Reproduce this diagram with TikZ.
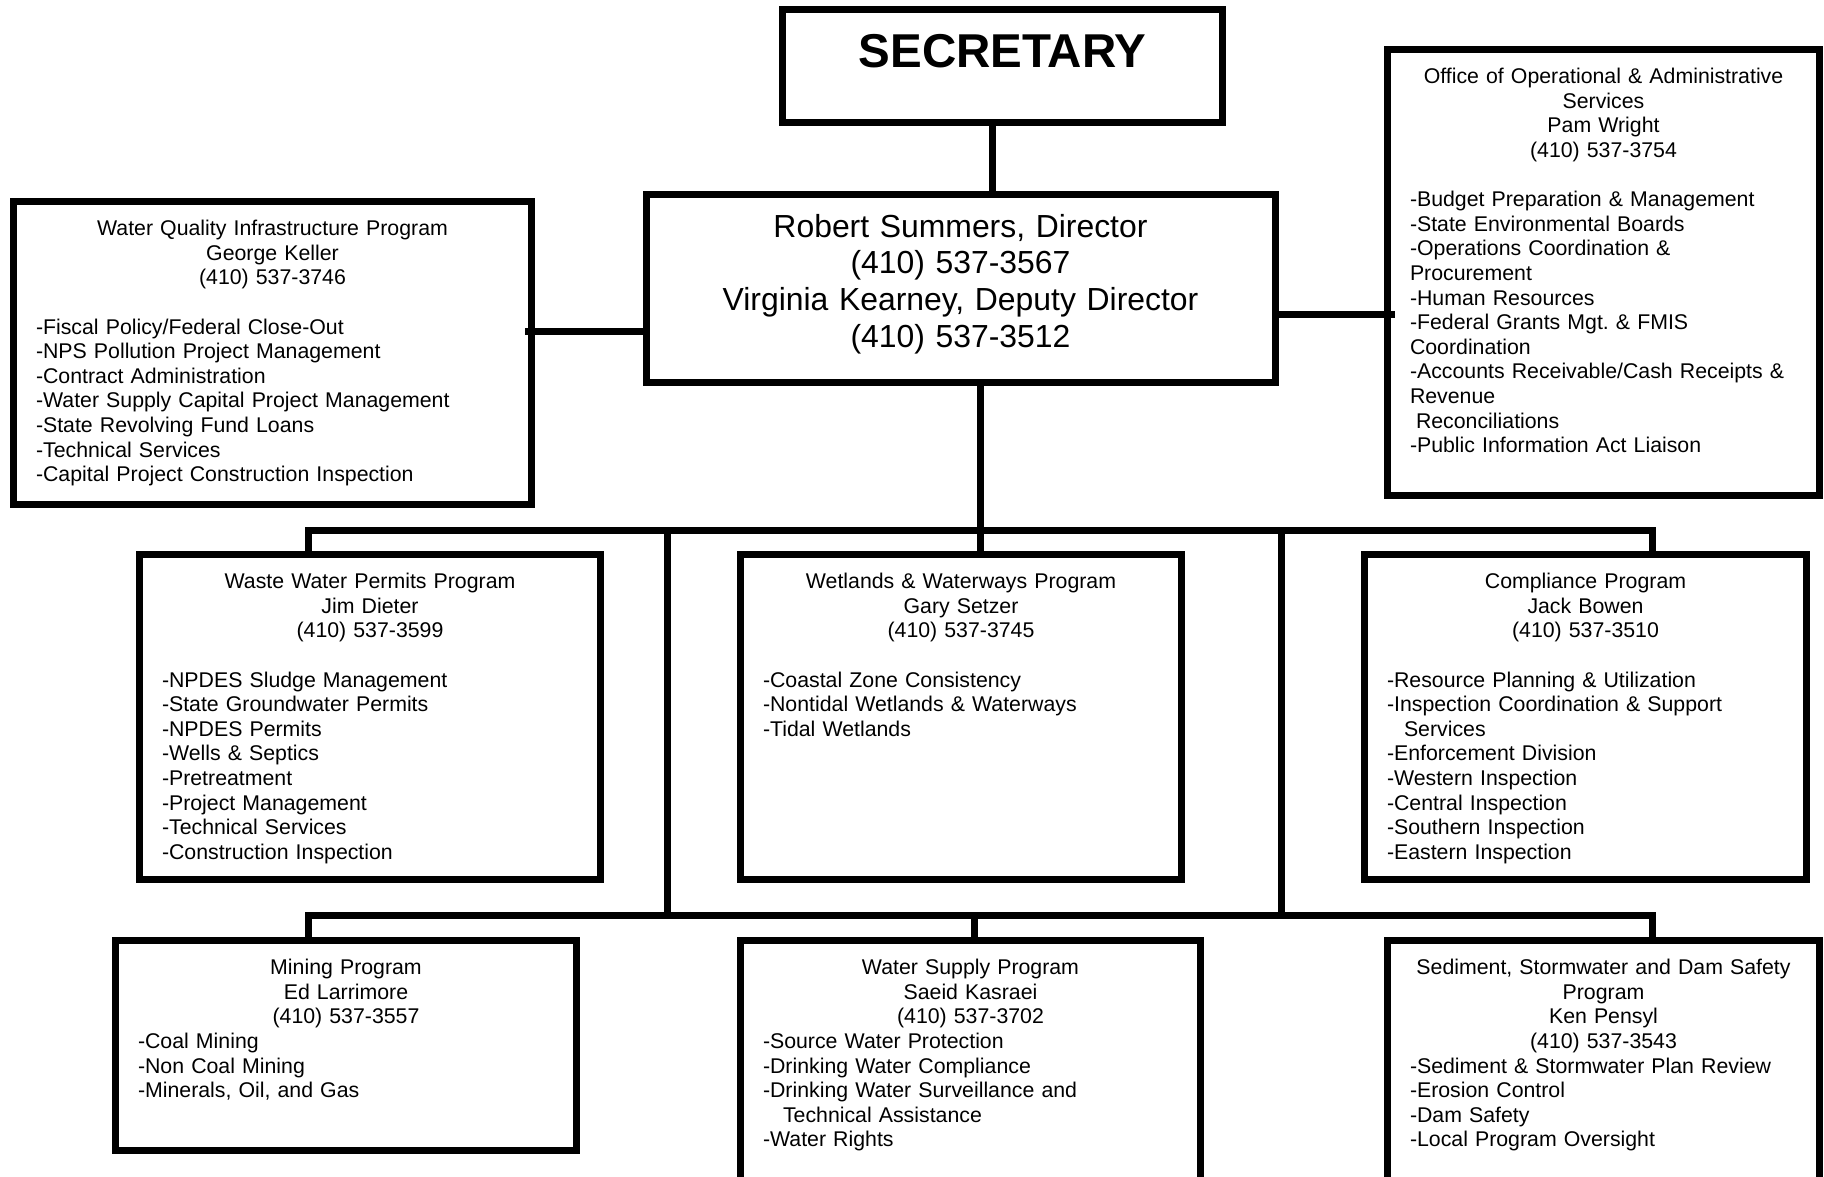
\documentclass[tikz,border=0pt]{standalone}
\usepackage{fontspec}
\setmainfont{Liberation Sans}
\tikzstyle{unit} = [rectangle, draw=black, line width=7pt, inner sep=0pt]
\tikzstyle{info} = [inner sep=0pt, anchor=north, align=left,
                    font=\fontsize{21.3}{24.6}\selectfont]
\tikzstyle{link} = [line width=7pt]

\begin{document}
\begin{tikzpicture}[x=1pt, y=-1pt]
  \path[use as bounding box, fill=white] (0,0) rectangle (1824,1176);

  % --- Top ---
  \node (sec) [unit, minimum width=440pt, minimum height=113pt] at (1002.5,66) {};
  \node (sec-txt) [inner sep=0pt, anchor=base, font=\fontsize{47.5}{55}\bfseries]
                  at (1002.5,67.5) {SECRETARY};

  \node (dir) [unit, minimum width=629pt, minimum height=188pt] at (960.5,288.5) {};
  \node (dir-txt) [info, align=center, text width=600pt, font=\fontsize{31.9}{36.6}\selectfont]
                  at (960.5,211.4)
                  {\strut Robert Summers, Director\\(410) 537-3567\\
                   Virginia Kearney, Deputy Director\\(410) 537-3512};

  % --- Side offices ---
  \node (wqi) [unit, minimum width=518pt, minimum height=303pt] at (272.5,353) {};
  \node (wqi-txt) [info, text width=473pt] at (272.5,218.3)
    {{\centering\strut Water Quality Infrastructure Program\\George Keller\\(410) 537-3746\par}
     \vspace{24.6pt}
     -Fiscal Policy/Federal Close-Out\\
     -NPS Pollution Project Management\\
     -Contract Administration\\
     -Water Supply Capital Project Management\\
     -State Revolving Fund Loans\\
     -Technical Services\\
     -Capital Project Construction Inspection};

  \node (ooas) [unit, minimum width=432pt, minimum height=446pt] at (1603.5,272.5) {};
  \node (ooas-txt) [info, text width=387pt] at (1603.5,66.3)
    {{\centering\strut Office of Operational \& Administrative\\Services\\Pam Wright\\(410) 537-3754\par}
     \vspace{24.6pt}
     -Budget Preparation \& Management\\
     -State Environmental Boards\\
     -Operations Coordination \&\\
     Procurement\\
     -Human Resources\\
     -Federal Grants Mgt.\ \& FMIS\\
     Coordination\\
     -Accounts Receivable/Cash Receipts \&\\
     Revenue\\
     \hspace*{6pt}Reconciliations\\
     -Public Information Act Liaison};

  % --- Programs, first row ---
  \node (ww) [unit, minimum width=461pt, minimum height=325pt] at (370,717) {};
  \node (ww-txt) [info, text width=416pt] at (370,571.3)
    {{\centering\strut Waste Water Permits Program\\Jim Dieter\\(410) 537-3599\par}
     \vspace{24.6pt}
     -NPDES Sludge Management\\
     -State Groundwater Permits\\
     -NPDES Permits\\
     -Wells \& Septics\\
     -Pretreatment\\
     -Project Management\\
     -Technical Services\\
     -Construction Inspection};

  \node (wet) [unit, minimum width=441pt, minimum height=325pt] at (961,717) {};
  \node (wet-txt) [info, text width=396pt] at (961,571.3)
    {{\centering\strut Wetlands \& Waterways Program\\Gary Setzer\\(410) 537-3745\par}
     \vspace{24.6pt}
     -Coastal Zone Consistency\\
     -Nontidal Wetlands \& Waterways\\
     -Tidal Wetlands};

  \node (comp) [unit, minimum width=442pt, minimum height=325pt] at (1585.5,717) {};
  \node (comp-txt) [info, text width=397pt] at (1585.5,571.3)
    {{\centering\strut Compliance Program\\Jack Bowen\\(410) 537-3510\par}
     \vspace{24.6pt}
     -Resource Planning \& Utilization\\
     -Inspection Coordination \& Support\\
     \hspace*{17pt}Services\\
     -Enforcement Division\\
     -Western Inspection\\
     -Central Inspection\\
     -Southern Inspection\\
     -Eastern Inspection};

  % --- Programs, second row ---
  \node (min) [unit, minimum width=461pt, minimum height=210pt] at (346,1045.5) {};
  \node (min-txt) [info, text width=416pt] at (346,957.3)
    {{\centering\strut Mining Program\\Ed Larrimore\\(410) 537-3557\par}
     -Coal Mining\\
     -Non Coal Mining\\
     -Minerals, Oil, and Gas};

  \node (ws) [unit, minimum width=460pt, minimum height=246pt] at (970.5,1063.5) {};
  \node (ws-txt) [info, text width=415pt] at (970.5,957.3)
    {{\centering\strut Water Supply Program\\Saeid Kasraei\\(410) 537-3702\par}
     -Source Water Protection\\
     -Drinking Water Compliance\\
     -Drinking Water Surveillance and\\
     \hspace*{20pt}Technical Assistance\\
     -Water Rights};

  \node (sed) [unit, minimum width=432pt, minimum height=246pt] at (1603.5,1063.5) {};
  \node (sed-txt) [info, text width=387pt] at (1603.5,957.3)
    {{\centering\strut Sediment, Stormwater and Dam Safety\\Program\\Ken Pensyl\\(410) 537-3543\par}
     -Sediment \& Stormwater Plan Review\\
     -Erosion Control\\
     -Dam Safety\\
     -Local Program Oversight};

  % Connectors
  \coordinate (topx) at (992,0);
  \coordinate (trunk) at (980,0);
  \coordinate (lx) at (308,0);
  \coordinate (rx) at (1652,0);
  \coordinate (ml) at (667,0);
  \coordinate (mr) at (1281,0);
  \coordinate (wsx) at (974,0);
  \coordinate (bus1) at (0,530);
  \coordinate (bus2) at (0,915);
  \coordinate (lstub) at (525,331);
  \coordinate (rstub) at (1395,314);

  \draw[link] (sec.south -| topx) -- (dir.north -| topx);
  \draw[link] (lstub) -- (dir.west |- lstub);
  \draw[link] (dir.east |- rstub) -- (rstub);
  \draw[link] (dir.south -| trunk) -- (wet.north -| trunk);
  \draw[link] (ww.north -| lx) -- (lx |- bus1) -- (rx |- bus1) -- (comp.north -| rx);
  \draw[link] (ml |- bus1) -- (ml |- bus2);
  \draw[link] (mr |- bus1) -- (mr |- bus2);
  \draw[link] (min.north -| lx) -- (lx |- bus2) -- (rx |- bus2) -- (sed.north -| rx);
  \draw[link] (ws.north -| wsx) -- (wsx |- bus2);

\end{tikzpicture}
\end{document}
